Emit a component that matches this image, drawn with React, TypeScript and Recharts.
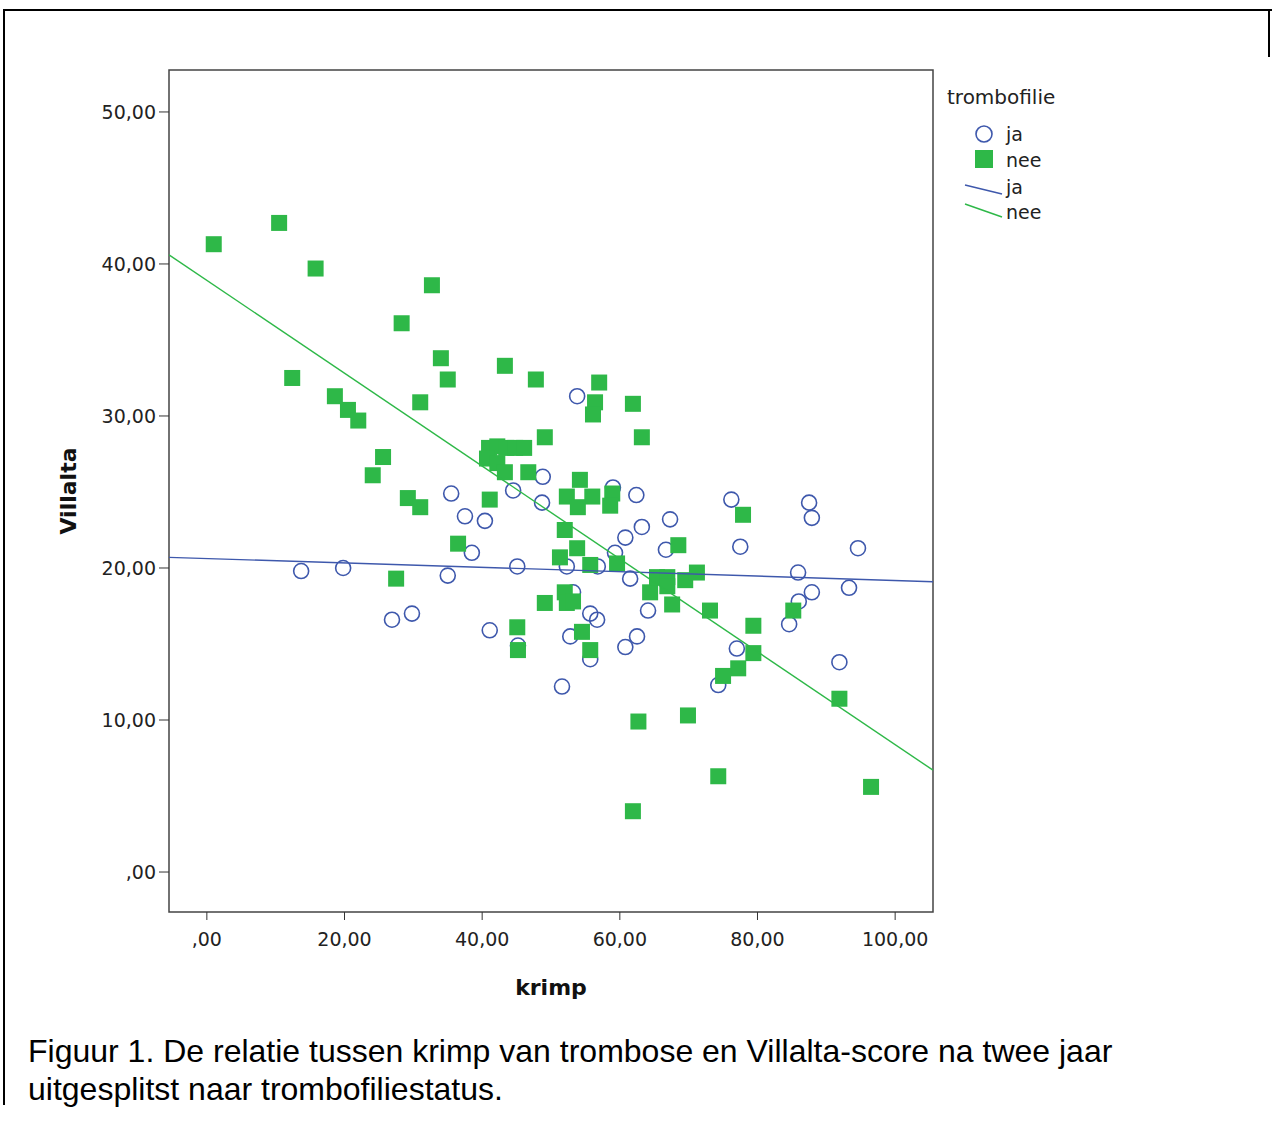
import React from 'react';
import { ScatterChart, Scatter, XAxis, YAxis, ReferenceArea, Label } from 'recharts';

// krimp (x) and Villalta (y) per trombofilie group
const jaKrimp = [53.8, 35.5, 37.5, 40.4, 38.5, 44.5, 48.7, 48.8, 45.1, 35.0, 13.7, 19.8, 26.9, 29.8, 41.1, 45.2, 51.6, 52.8, 53.2, 55.7, 55.7, 56.7, 52.3, 56.8, 59.0, 59.3, 60.8, 62.4, 63.2, 61.5, 67.3, 66.7, 64.1, 60.8, 62.5, 76.2, 77.5, 77.0, 74.3, 87.5, 87.9, 85.9, 94.6, 87.9, 86.0, 84.6, 93.3, 91.9];
const jaVillalta = [31.3, 24.9, 23.4, 23.1, 21.0, 25.1, 24.3, 26.0, 20.1, 19.5, 19.8, 20.0, 16.6, 17.0, 15.9, 14.9, 12.2, 15.5, 18.4, 14.0, 17.0, 16.6, 20.1, 20.1, 25.3, 21.0, 22.0, 24.8, 22.7, 19.3, 23.2, 21.2, 17.2, 14.8, 15.5, 24.5, 21.4, 14.7, 12.3, 24.3, 23.3, 19.7, 21.3, 18.4, 17.8, 16.3, 18.7, 13.8];

const neeKrimp = [1.0, 10.5, 15.8, 32.7, 28.3, 12.4, 34.0, 35.0, 18.6, 20.5, 22.0, 31.0, 25.6, 24.1, 29.2, 31.0, 43.3, 47.8, 57.0, 56.4, 56.1, 61.9, 63.2, 49.1, 41.0, 42.2, 43.5, 44.8, 46.1, 40.7, 42.2, 43.3, 46.7, 41.1, 36.5, 27.5, 54.2, 52.3, 56.0, 53.9, 58.9, 58.6, 52.0, 53.8, 51.3, 55.7, 59.6, 49.1, 52.0, 52.3, 53.2, 54.5, 55.7, 45.1, 45.2, 64.4, 65.4, 66.9, 69.5, 71.2, 66.9, 67.6, 68.5, 73.1, 77.9, 79.4, 79.4, 77.2, 75.0, 85.2, 91.9, 62.7, 69.9, 74.3, 61.9, 96.5];
const neeVillalta = [41.3, 42.7, 39.7, 38.6, 36.1, 32.5, 33.8, 32.4, 31.3, 30.4, 29.7, 30.9, 27.3, 26.1, 24.6, 24.0, 33.3, 32.4, 32.2, 30.9, 30.1, 30.8, 28.6, 28.6, 27.9, 28.0, 27.9, 27.9, 27.9, 27.2, 26.9, 26.3, 26.3, 24.5, 21.6, 19.3, 25.8, 24.7, 24.7, 24.0, 24.9, 24.1, 22.5, 21.3, 20.7, 20.2, 20.3, 17.7, 18.4, 17.7, 17.8, 15.8, 14.6, 16.1, 14.6, 18.4, 19.4, 19.4, 19.2, 19.7, 18.8, 17.6, 21.5, 17.2, 23.5, 16.2, 14.4, 13.4, 12.9, 17.2, 11.4, 9.9, 10.3, 6.3, 4.0, 5.6];

// fit lines (ends at the plot edges)
const fitX = [-5.5, 105.5];
const fitJaY = [20.7, 19.1];
const fitNeeY = [40.6, 6.7];

const xTicks = [0, 20, 40, 60, 80, 100];
const yTicks = [0, 10, 20, 30, 40, 50];
const xDomain = [-5.5, 105.5];
const yDomain = [-2.63, 52.76];

const BLUE = '#3E58AC';
const GREEN = '#2EB848';
const FONT = '"DejaVu Sans", Verdana, sans-serif';

const jaData = jaKrimp.map((x, i) => ({ x, y: jaVillalta[i] }));
const neeData = neeKrimp.map((x, i) => ({ x, y: neeVillalta[i] }));
const fitJa = fitX.map((x, i) => ({ x, y: fitJaY[i] }));
const fitNee = fitX.map((x, i) => ({ x, y: fitNeeY[i] }));

const fmt = (v: number) => (v === 0 ? ',00' : v.toFixed(2).replace('.', ','));

const Circle = (p: any) => <circle cx={p.cx} cy={p.cy} r={7.5} fill="none" stroke={BLUE} strokeWidth={1.6} />;
const Square = (p: any) => <rect x={p.cx - 8} y={p.cy - 8} width={16} height={16} fill={GREEN} />;
const NoShape = () => <g />;

const LegendBox = () => (
  <svg width={180} height={170} style={{ display: 'block' }}>
    <g fontFamily={FONT} fill="#222">
      <text x={17} y={34} fontSize={20}>trombofilie</text>
      <circle cx={54} cy={64} r={8} fill="none" stroke={BLUE} strokeWidth={1.6} />
      <text x={76} y={71} fontSize={19}>ja</text>
      <rect x={45} y={80} width={18} height={18} fill={GREEN} />
      <text x={76} y={97} fontSize={19}>nee</text>
      <line x1={35} y1={115} x2={72} y2={124} stroke={BLUE} strokeWidth={1.4} />
      <text x={76} y={124} fontSize={19}>ja</text>
      <line x1={35} y1={134} x2={72} y2={147} stroke={GREEN} strokeWidth={1.4} />
      <text x={76} y={149} fontSize={19}>nee</text>
    </g>
  </svg>
);

export default function App() {
  return (
    <div style={{ position: 'fixed', left: 0, top: 0, width: 1272, height: 1145, background: '#fff', overflow: 'hidden' }}>
      {/* page frame */}
      <div style={{ position: 'absolute', left: 3, top: 9, width: 1269, height: 2, background: '#000' }} />
      <div style={{ position: 'absolute', left: 3, top: 9, width: 2, height: 1096, background: '#000' }} />
      <div style={{ position: 'absolute', left: 1268, top: 9, width: 2, height: 48, background: '#000' }} />

      <div style={{ position: 'absolute', left: 0, top: 0 }}>
        <ScatterChart width={1272} height={1010} margin={{ top: 70, right: 339, bottom: 48, left: 0 }}>
          <XAxis
            type="number"
            dataKey="x"
            domain={xDomain}
            ticks={xTicks}
            allowDataOverflow
            tickFormatter={fmt}
            axisLine={false}
            tickLine={{ stroke: '#333' }}
            tickSize={8}
            tickMargin={13}
            height={50}
            tick={{ fill: '#222', fontSize: 19, fontFamily: FONT }}
          >
            <Label value="krimp" position="bottom" offset={17} style={{ fontFamily: FONT, fontSize: 22, fontWeight: 'bold', fill: '#111' }} />
          </XAxis>
          <YAxis
            type="number"
            dataKey="y"
            domain={yDomain}
            ticks={yTicks}
            allowDataOverflow
            tickFormatter={fmt}
            axisLine={false}
            tickLine={{ stroke: '#333' }}
            tickSize={10}
            tickMargin={3}
            width={169}
            tick={{ fill: '#222', fontSize: 19, fontFamily: FONT }}
          >
            <Label
              content={({ viewBox }: any) => {
                const cx = viewBox.x + 68;
                const cy = viewBox.y + viewBox.height / 2;
                return (
                  <text x={cx} y={cy} transform={`rotate(-90, ${cx}, ${cy})`} textAnchor="middle" dominantBaseline="central" fontFamily={FONT} fontSize={22} fontWeight="bold" fill="#111">
                    Villalta
                  </text>
                );
              }}
            />
          </YAxis>
          <ReferenceArea x1={xDomain[0]} x2={xDomain[1]} y1={yDomain[0]} y2={yDomain[1]} fill="none" stroke="#444" strokeWidth={1.5} fillOpacity={0} />
          <Scatter name="ja" data={jaData} shape={Circle} isAnimationActive={false} />
          <Scatter name="nee" data={neeData} shape={Square} isAnimationActive={false} />
          <Scatter name="fit ja" data={fitJa} shape={NoShape} line={{ stroke: BLUE, strokeWidth: 1.4 }} legendType="none" isAnimationActive={false} />
          <Scatter name="fit nee" data={fitNee} shape={NoShape} line={{ stroke: GREEN, strokeWidth: 1.4 }} legendType="none" isAnimationActive={false} />
        </ScatterChart>
      </div>

      <div style={{ position: 'absolute', left: 930, top: 70 }}>
        <LegendBox />
      </div>

      <div style={{ position: 'absolute', left: 28, top: 1032, fontFamily: '"Liberation Sans", Arial, sans-serif', fontSize: 32, lineHeight: '38px', color: '#000' }}>
        Figuur 1. De relatie tussen krimp van trombose en Villalta-score na twee jaar
        <br />
        uitgesplitst naar trombofiliestatus.
      </div>
    </div>
  );
}
